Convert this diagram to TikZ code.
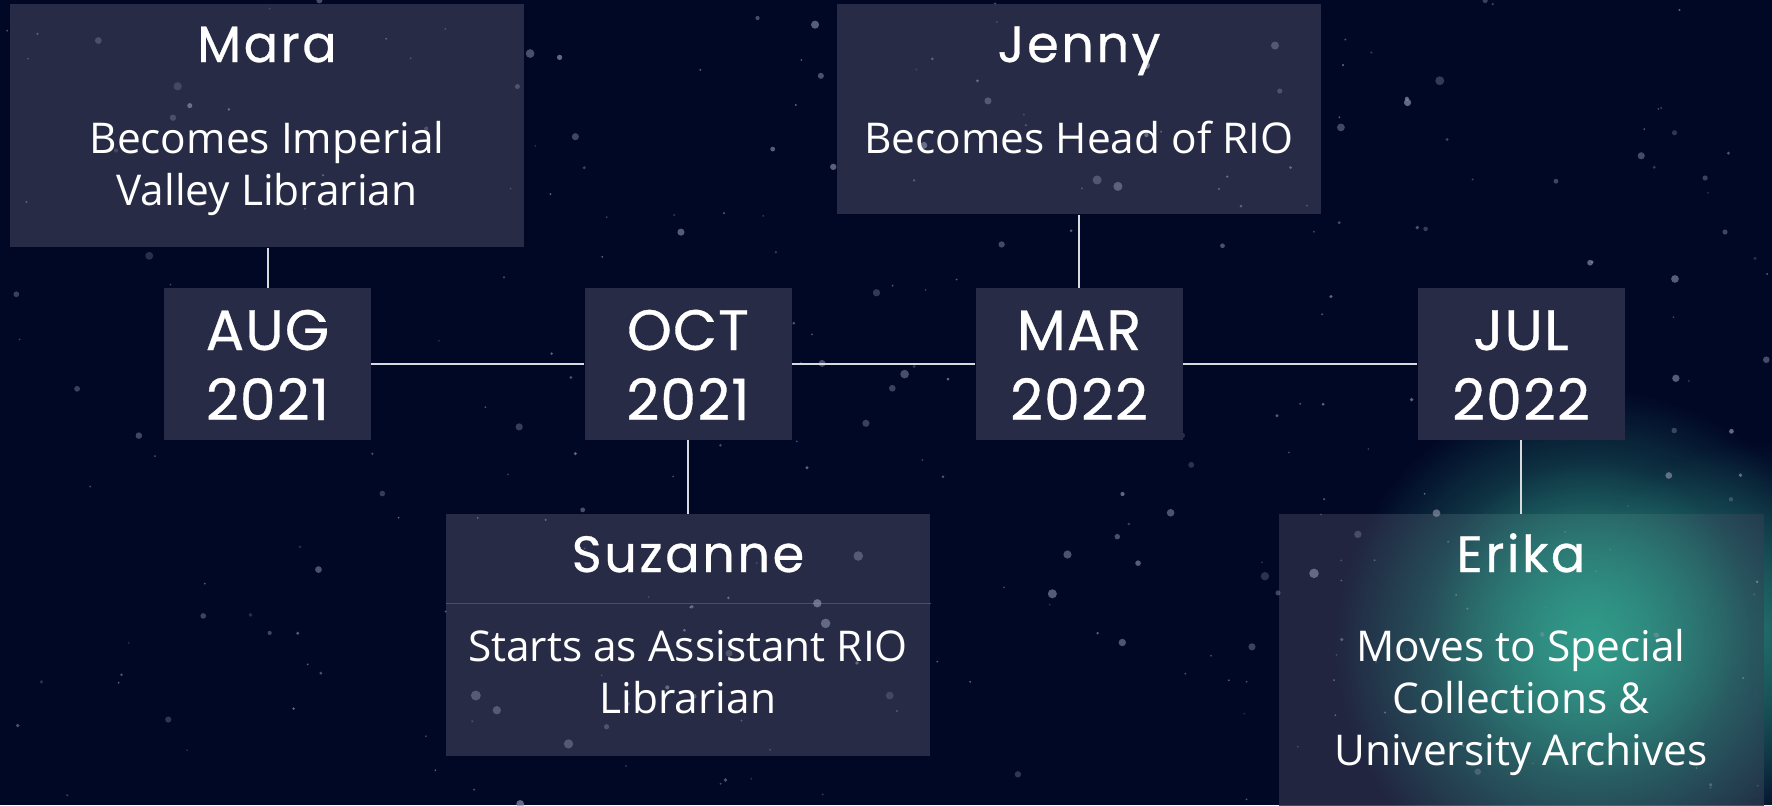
\documentclass[tikz,border=0pt]{standalone}
\usepackage{fontspec}
\setmainfont{Open Sans}
\newfontfamily\headfont{Poppins}[LetterSpace=5,FakeBold=0.6]
\newfontfamily\datefont{Poppins}[LetterSpace=2,FakeBold=0.6]
\usetikzlibrary{fadings}

\definecolor{night}{HTML}{010826}
\definecolor{card}{HTML}{272B45}
\definecolor{cardrule}{HTML}{4A4E68}
\definecolor{aurora}{HTML}{32A08D}
\definecolor{dust}{HTML}{8E93AE}

\tikzfading[name=glowfade,inner color=transparent!0,outer color=transparent!100]

\begin{document}
\begin{tikzpicture}[x=0.5pt,y=-0.5pt,
    card/.style={fill=card,inner sep=0pt,anchor=north west},
    datebox/.style={fill=card,inner sep=0pt,minimum width=103.5pt,minimum height=76pt},
    who/.style={text=white,anchor=base,inner sep=0pt,font=\headfont\fontsize{25.5}{30}\selectfont},
    what/.style={text=white,anchor=base,inner sep=0pt,align=center,font=\fontsize{21.2}{26}\selectfont},
    when/.style={text=white,anchor=base,inner sep=0pt,font=\datefont\fontsize{28.5}{35}\selectfont},
    link/.style={draw=white!85!night,line width=1pt}]
  \useasboundingbox[fill=night] (0,0) rectangle (1772,805);

  % glow behind the last card
  \fill[aurora,path fading=glowfade,opacity=0.5] (1760,630) circle (95pt);

  % person cards
  \node[card,minimum width=257pt,minimum height=121.5pt] (mara) at (10,4) {};
  \node[card,minimum width=242pt,minimum height=105pt] (jenny) at (837,4) {};
  \node[card,minimum width=242pt,minimum height=121pt] (suzanne) at (446,514) {};
  \node[card,minimum width=242.5pt,minimum height=150pt,fill opacity=0.85] (erika) at (1279,514) {};
  \draw[cardrule,line width=0.6pt] ([yshift=16pt]suzanne.west) -- ([yshift=16pt]suzanne.east);

  \fill[aurora,path fading=glowfade,opacity=0.95] (1590,645) circle (128pt);
  \fill[aurora,path fading=glowfade,opacity=0.5] (1590,620) circle (80pt);

  % stars
  \pgfmathsetseed{4711}
  \foreach \i in {1,...,320} {
    \pgfmathsetmacro\sx{1772*rnd}
    \pgfmathsetmacro\sy{805*rnd}
    \pgfmathsetmacro\sr{0.5+2*pow(rnd,4)}
    \pgfmathsetmacro\so{0.25+0.45*rnd}
    \fill[dust,opacity=\so] (\sx,\sy) circle (\sr pt);
  }

  % dates
  \foreach \n/\x/\m/\yr in {aug/267.5/AUG/2021,oct/688/OCT/2021,mar/1079/MAR/2022,jul/1521/JUL/2022} {
    \node[datebox] (\n) at (\x,364) {};
    \node[when] (\n-m) at (\x,350) {\m};
    \node[when] (\n-y) at (\x,420) {\yr};
  }

  % names and roles
  \node[who] (mara-n) at (267,62) {Mara};
  \node[what] (mara-t) at (267,205) {Becomes Imperial\\Valley Librarian};
  \node[who] (jenny-n) at (1079,62) {Jenny};
  \node[what] (jenny-t) at (1079,153) {Becomes Head of RIO};
  \node[who] (suzanne-n) at (688,572) {Suzanne};
  \node[what] (suzanne-t) at (688,713) {Starts as Assistant RIO\\Librarian};
  \node[who] (erika-n) at (1521,572) {Erika};
  \node[what] (erika-t) at (1521,765) {Moves to Special\\Collections \&\\University Archives};

  % timeline
  \path[link] (aug) edge (oct) (oct) edge (mar) (mar) edge (jul);
  \path[link] (mara.south -| aug.north) edge (aug.north);
  \path[link] (jenny.south -| mar.north) edge (mar.north);
  \path[link] (oct.south) edge (suzanne.north -| oct.south);
  \path[link] (jul.south) edge (erika.north -| jul.south);
\end{tikzpicture}
\end{document}
